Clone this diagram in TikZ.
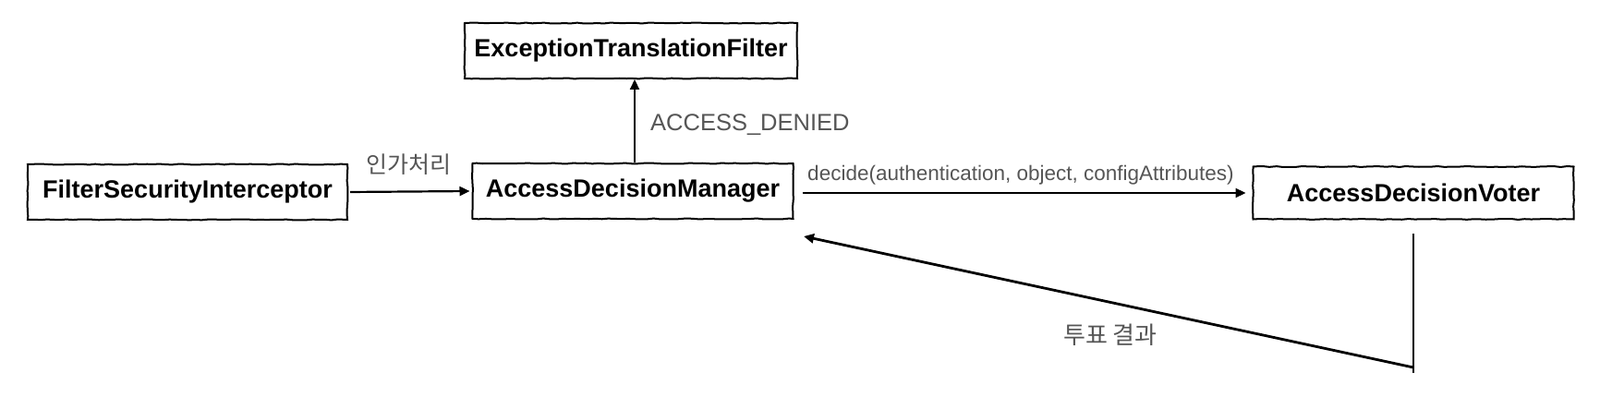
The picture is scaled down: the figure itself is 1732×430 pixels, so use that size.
\documentclass[tikz,border=0pt]{standalone}
\usepackage{fontspec}
\setmainfont{Liberation Sans}
\newfontfamily\kr{Noto Sans CJK KR}
\usetikzlibrary{arrows.meta,decorations.pathmorphing}
\definecolor{labelgray}{HTML}{555555}
\begin{document}
\begin{tikzpicture}[x=1pt,y=-1pt,
  box/.style={draw=black, line width=2pt, fill=white, minimum height=60pt, inner sep=0pt,
    font=\fontsize{27}{30}\selectfont\bfseries,
    decoration={random steps,segment length=7pt,amplitude=0.5pt}, decorate},
  lbl/.style={text=labelgray, inner sep=0pt},
  conn/.style={line width=2.2pt, -{Triangle[length=11pt,width=10pt]}},
  plain/.style={line width=1.3pt}]
\useasboundingbox (0,0) rectangle (1732,430);
\node[box, minimum width=346pt] (fsi) at (203,208) {FilterSecurityInterceptor};
\node[box, minimum width=347pt] (adm) at (685,207) {AccessDecisionManager};
\node[box, minimum width=360pt] (etf) at (683,55) {ExceptionTranslationFilter};
\node[box, minimum width=347pt, minimum height=57pt] (adv) at (1530,209) {AccessDecisionVoter};
\coordinate (vt) at (1530,398);
\coordinate (vb) at (1530,404);
\draw[conn, shorten <=2pt, shorten >=2pt] (fsi.east) -- (adm.west);
\draw[conn] ([xshift=2pt]adm.north) -- ([xshift=2pt]adm.north |- etf.south);
\draw[conn, shorten <=9pt, shorten >=7pt] ([yshift=-2pt]adm.east) -- ([yshift=-2pt]adm.east -| adv.west);
\draw[plain] ([yshift=-15pt]adv.south) -- (vb);
\draw[conn, line width=2.8pt] (vt) -- (870,256);
\node[lbl, font=\kr\fontsize{25}{27}\selectfont] (l1) at (442,178) {인가처리};
\node[lbl, font=\fontsize{25.5}{28}\selectfont, anchor=west] (l2) at (704,135) {ACCESS\_DENIED};
\node[lbl, font=\fontsize{22.5}{25}\selectfont] (l3) at (1105,190) {decide(authentication, object, configAttributes)};
\node[lbl, font=\kr\fontsize{26}{28}\selectfont] (l4) at (1202,363) {투표 결과};
\end{tikzpicture}
\end{document}
